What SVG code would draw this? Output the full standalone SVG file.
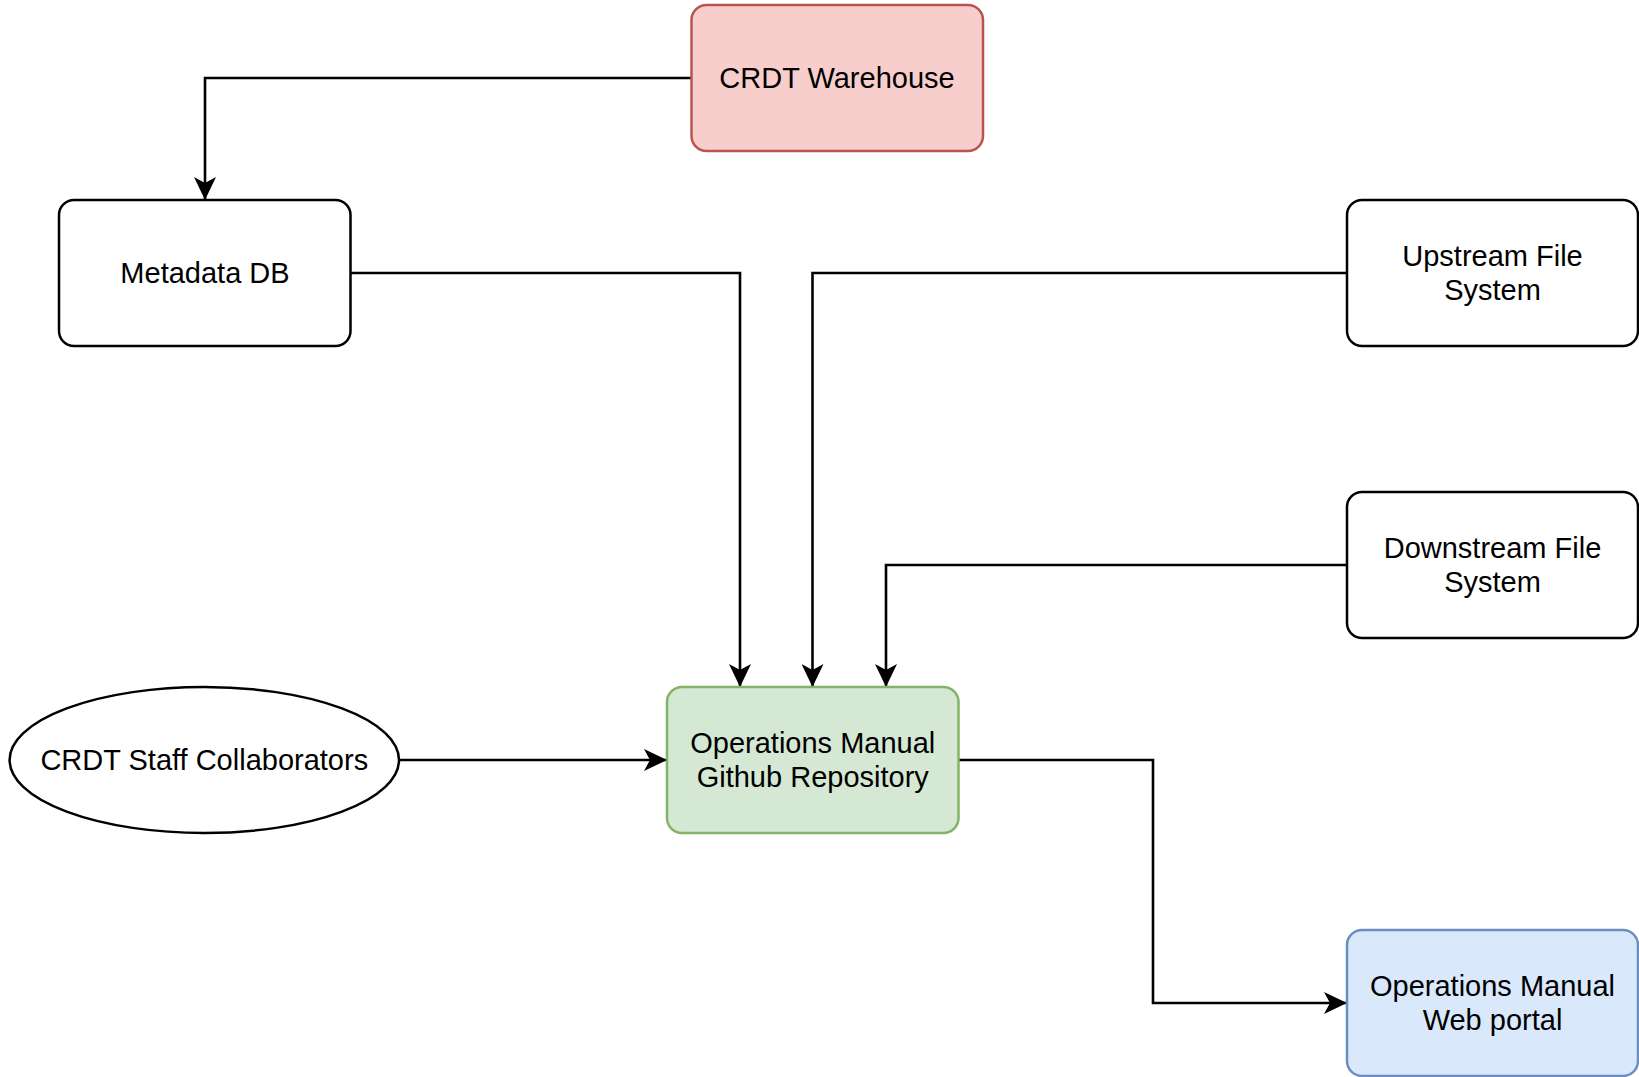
<svg xmlns="http://www.w3.org/2000/svg" width="1639" height="1077" viewBox="0 0 1639 1077">
<style>
.box{fill:#ffffff;stroke:#000000;stroke-width:2.5}
.red{fill:#f8cecc;stroke:#b85450;stroke-width:2.5}
.green{fill:#d5e8d4;stroke:#82b366;stroke-width:2.5}
.blue{fill:#dae8fc;stroke:#6c8ebf;stroke-width:2.5}
.lbl{font-family:"Liberation Sans",Arial,Helvetica,sans-serif;font-size:29px;fill:#000000;text-anchor:middle}
.edge{fill:none;stroke:#000000;stroke-width:2.6;marker-end:url(#arrow)}
</style>
<defs>
<marker id="arrow" viewBox="0 0 23 22" markerUnits="userSpaceOnUse" markerWidth="23" markerHeight="22" refX="22" refY="11" orient="auto">
<path d="M0,0 L23,11 L0,22 L6,11 Z" fill="#000000" stroke="none"/>
</marker>
</defs>
<rect x="0" y="0" width="1639" height="1077" fill="#ffffff"/>
<g id="connectors">
<path class="edge" d="M691,78 H205 V199"/>
<path class="edge" d="M351,273 H740 V686"/>
<path class="edge" d="M1347,273 H812.5 V686"/>
<path class="edge" d="M1347,565 H886 V686"/>
<path class="edge" d="M399,760 H666"/>
<path class="edge" d="M959,760 H1153 V1003 H1346"/>
</g>
<g id="crdt-warehouse">
<rect class="red" x="691.5" y="5" width="291.5" height="146" rx="15" ry="15"/>
<text class="lbl" x="837" y="88">CRDT Warehouse</text>
</g>
<g id="metadata-db">
<rect class="box" x="59" y="200" width="291.5" height="146" rx="15" ry="15"/>
<text class="lbl" x="205" y="283">Metadata DB</text>
</g>
<g id="upstream-fs">
<rect class="box" x="1347" y="200" width="291" height="146" rx="15" ry="15"/>
<text class="lbl" x="1492.5" y="265.6">Upstream File</text>
<text class="lbl" x="1492.5" y="300.4">System</text>
</g>
<g id="downstream-fs">
<rect class="box" x="1347" y="492" width="291" height="146" rx="15" ry="15"/>
<text class="lbl" x="1492.5" y="557.6">Downstream File</text>
<text class="lbl" x="1492.5" y="592.4">System</text>
</g>
<g id="github-repo">
<rect class="green" x="667" y="687" width="291.5" height="146" rx="15" ry="15"/>
<text class="lbl" x="812.75" y="752.6">Operations Manual</text>
<text class="lbl" x="812.75" y="787.4">Github Repository</text>
</g>
<g id="staff-collaborators">
<ellipse class="box" cx="204.3" cy="760" rx="194.7" ry="73"/>
<text class="lbl" x="204.3" y="770">CRDT Staff Collaborators</text>
</g>
<g id="web-portal">
<rect class="blue" x="1347" y="930" width="291" height="146" rx="15" ry="15"/>
<text class="lbl" x="1492.5" y="995.6">Operations Manual</text>
<text class="lbl" x="1492.5" y="1030.4">Web portal</text>
</g>
</svg>
